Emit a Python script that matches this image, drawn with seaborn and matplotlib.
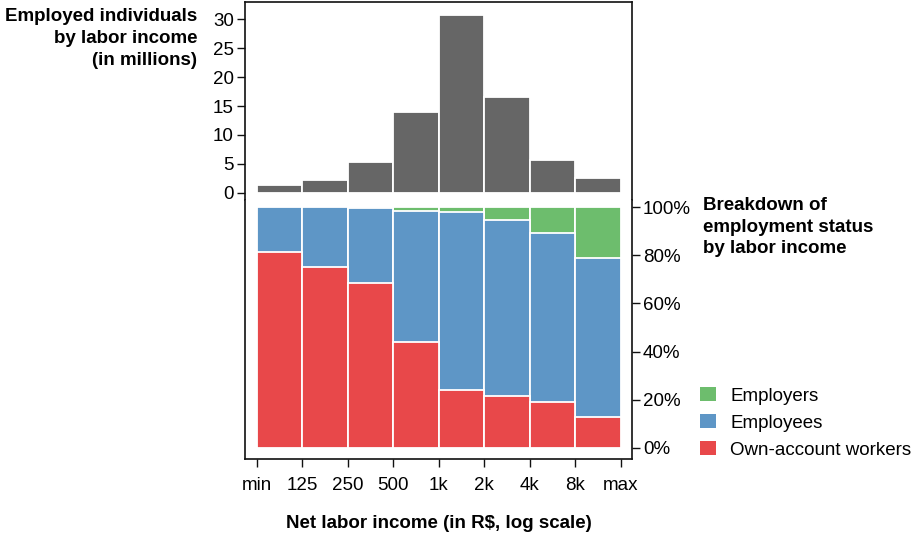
import matplotlib
matplotlib.use("Agg")
import matplotlib.pyplot as plt
from matplotlib.patches import Patch
import numpy as np
import seaborn as sns

# income bins (edges shown on the x axis)
bins = ["min-125", "125-250", "250-500", "500-1k", "1k-2k", "2k-4k", "4k-8k", "8k-max"]
edge_labels = ["min", "125", "250", "500", "1k", "2k", "4k", "8k", "max"]

# employed individuals per bin (millions)
employed = [1.3, 2.2, 5.3, 13.9, 30.7, 16.6, 5.7, 2.5]

# share of each employment status per bin (%)
own_account = [81.3, 75.3, 68.4, 44.0, 23.9, 21.4, 19.0, 12.6]
employers = [0.0, 0.0, 0.3, 1.4, 2.0, 5.4, 10.8, 21.1]
employees = [100 - o - e for o, e in zip(own_account, employers)]

series_names = ["Employers", "Employees", "Own-account workers"]
colors = {"Employers": "#6dbd6d", "Employees": "#5e96c6", "Own-account workers": "#e8484a"}
grey = "#666666"

sns.set_style("white")
plt.rcParams["font.family"] = ["Liberation Sans", "DejaVu Sans"]
plt.rcParams["font.size"] = 13.5
plt.rcParams["text.color"] = "black"
plt.rcParams["axes.labelcolor"] = "black"

fig = plt.figure(figsize=(9.21, 5.34), dpi=100)
W, H = 921, 534
left, right = 245 / W, 632 / W
split = (H - 200) / H
ax_top = fig.add_axes([left, split, right - left, (H - 2) / H - split])
ax_bot = fig.add_axes([left, (H - 459) / H, right - left, split - (H - 459) / H])

# top: histogram of employed individuals
sns.barplot(x=bins, y=employed, color=grey, width=1, edgecolor="white",
            linewidth=1.3, saturation=1, ax=ax_top)
ax_top.set_ylim(-1.26, 33.0)
ax_top.set_yticks([0, 5, 10, 15, 20, 25, 30])
ax_top.set_xticks([])
ax_top.set_xlabel("")

# bottom: stacked shares, drawn as cumulative layers from the top down
own = np.array(own_account)
emp = np.array(employees)
boss = np.array(employers)
layers = {
    "Employers": own + emp + boss,
    "Employees": own + emp,
    "Own-account workers": own,
}
for name in series_names:
    sns.barplot(x=bins, y=layers[name], color=colors[name], width=1,
                edgecolor="white", linewidth=1.3, saturation=1, ax=ax_bot)
ax_bot.set_ylim(-4.7, 103.0)
ax_bot.yaxis.tick_right()
ax_bot.set_yticks([0, 20, 40, 60, 80, 100])
ax_bot.set_yticklabels([f"{v}%" for v in [0, 20, 40, 60, 80, 100]])
ax_bot.set_xticks(np.arange(len(edge_labels)) - 0.5)
ax_bot.set_xticklabels(edge_labels)
ax_bot.set_xlabel("Net labor income (in R\\$, log scale)", fontweight="bold", labelpad=15)

for ax in (ax_top, ax_bot):
    ax.set_xlim(-0.757, 7.748)
    for s in ax.spines.values():
        s.set_color("#111111")
        s.set_linewidth(1.2)
    ax.tick_params(length=6, width=1, color="#111111", pad=2, labelsize=13.5, labelcolor="black")
ax_top.spines["bottom"].set_visible(False)
ax_bot.spines["top"].set_visible(False)
ax_top.tick_params(axis="y", left=True)
ax_bot.tick_params(axis="y", right=True, left=False)
ax_bot.tick_params(axis="x", bottom=True, pad=7)

fig.text(197 / W, 1 - 8 / H, "Employed individuals\nby labor income\n(in millions)",
         ha="right", va="top", fontweight="bold", fontsize=13.5, linespacing=1.4)
fig.text(703 / W, 1 - 197 / H, "Breakdown of\nemployment status\nby labor income",
         ha="left", va="top", fontweight="bold", fontsize=13.5, linespacing=1.35)

handles = [Patch(facecolor=colors[n], edgecolor="none", label=n) for n in series_names]
fig.legend(handles=handles, loc="upper left", bbox_to_anchor=(700 / W, 1 - 387 / H),
           frameon=False, fontsize=13.5, handlelength=0.85, handleheight=0.8,
           handletextpad=0.75, labelspacing=0.5, borderpad=0, borderaxespad=0)

fig.savefig("out.png", dpi=100)
